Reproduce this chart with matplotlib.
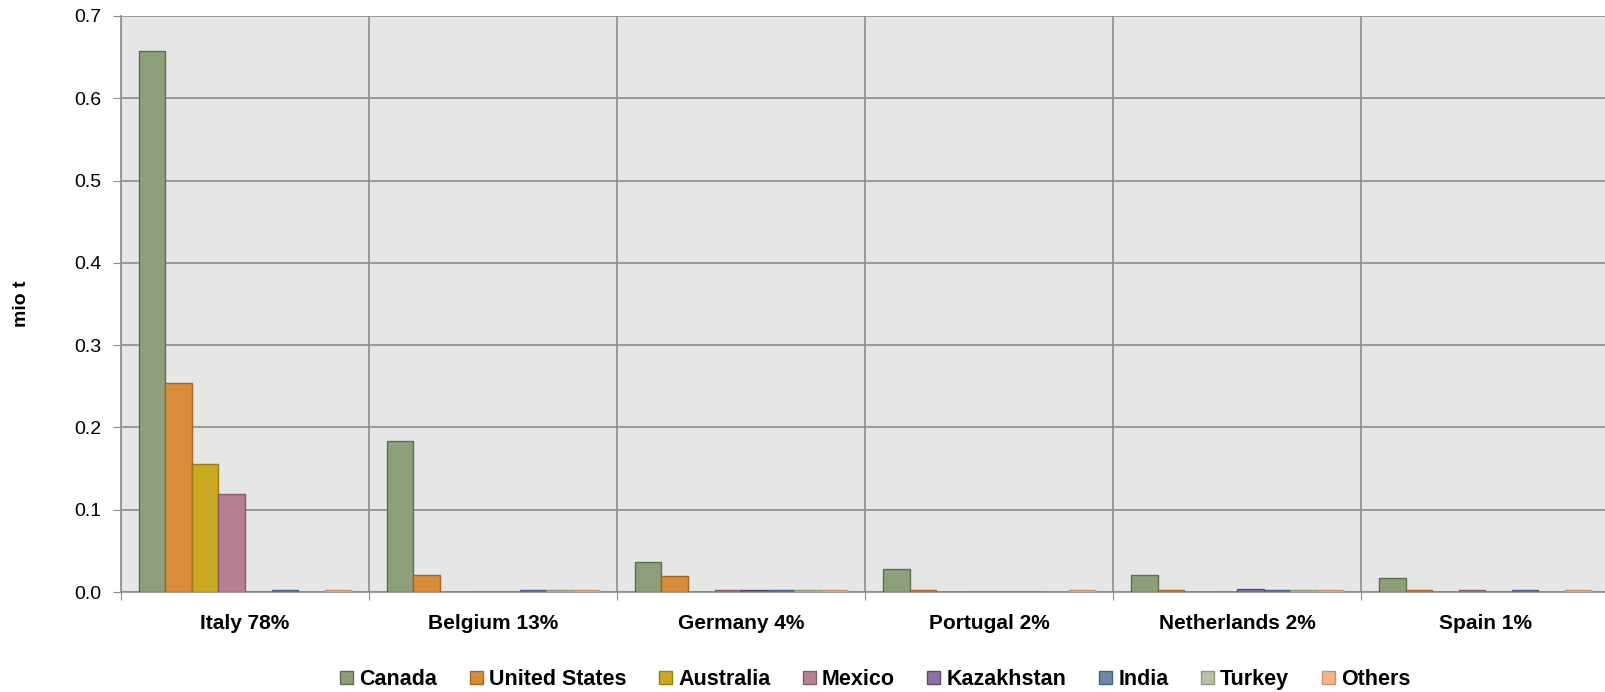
import numpy as np
import matplotlib
matplotlib.use("Agg")
import matplotlib.pyplot as plt
from matplotlib.patches import Patch

plt.rcParams['font.family'] = ['Liberation Sans', 'DejaVu Sans']

# importing countries (x groups) and suppliers (bars)
countries = ["Italy 78%", "Belgium 13%", "Germany 4%", "Portugal 2%",
             "Netherlands 2%", "Spain 1%"]
suppliers = ["Canada", "United States", "Australia", "Mexico",
             "Kazakhstan", "India", "Turkey", "Others"]

canada     = [0.657, 0.184, 0.036, 0.028, 0.021, 0.017]
usa        = [0.254, 0.021, 0.019, 0.002, 0.002, 0.002]
australia  = [0.156, 0.0,   0.0,   0.0,   0.0,   0.0]
mexico     = [0.119, 0.0,   0.002, 0.0,   0.0,   0.002]
kazakhstan = [0.0,   0.0,   0.002, 0.0,   0.004, 0.0]
india      = [0.002, 0.002, 0.002, 0.0,   0.002, 0.002]
turkey     = [0.0,   0.002, 0.002, 0.0,   0.002, 0.0]
others     = [0.002, 0.002, 0.002, 0.002, 0.002, 0.002]

series = [canada, usa, australia, mexico, kazakhstan, india, turkey, others]
fills = ["#8f9f7b", "#d88d3b", "#cba821", "#b77f91",
         "#8b71a7", "#6e87ab", "#b8c3a8", "#f2b68c"]
edges = ["#5f6e4e", "#a8661c", "#9a7e10", "#8a5a6a",
         "#5e4a7a", "#46608a", "#8e9a80", "#d09068"]

fig = plt.figure(figsize=(16.06, 6.92), dpi=100)
ax = fig.add_axes([121 / 1606, 0.1445, 1 - 121 / 1606 + 0.002, 0.977 - 0.1445])
ax.set_facecolor("#e6e6e6")

n = len(suppliers)
bw = 0.107
x = np.arange(len(countries))
for i, (vals, fc, ec) in enumerate(zip(series, fills, edges)):
    pos = x + 0.5 + (i - (n - 1) / 2) * bw
    ax.bar(pos, vals, width=bw, color=fc, edgecolor=ec, linewidth=1.0, zorder=3)

ax.set_xlim(0, len(countries))
ax.set_ylim(0, 0.7)
ax.set_yticks(np.arange(0, 0.71, 0.1))
ax.set_yticklabels([f"{v:.1f}" for v in np.arange(0, 0.71, 0.1)], fontsize=14)

# vertical gridlines at group boundaries, horizontal at y ticks
ax.set_xticks(np.arange(0, len(countries) + 1), minor=False)
ax.set_xticklabels([])
ax.set_xticks(x + 0.5, minor=True)
ax.set_xticklabels(countries, minor=True, fontsize=15, fontweight="bold")
ax.tick_params(axis="x", which="minor", length=0, pad=16)
ax.tick_params(axis="x", which="major", length=6, color="#8c8c8c", direction="out")
ax.tick_params(axis="y", length=6, color="#8c8c8c", direction="out", pad=8)
ax.grid(True, which="major", color="#8c8c8c", linewidth=1.2, zorder=0)
ax.set_axisbelow(True)

for s in ["top", "right"]:
    ax.spines[s].set_visible(False)
for s in ["left", "bottom"]:
    ax.spines[s].set_color("#8c8c8c")
    ax.spines[s].set_linewidth(1.2)

ax.set_ylabel("mio t", fontsize=14, fontweight="bold", labelpad=32)

handles = [Patch(facecolor=fc, edgecolor=ec, label=lab)
           for fc, ec, lab in zip(fills, edges, suppliers)]
fig.legend(handles=handles, loc="center", bbox_to_anchor=(0.545, 0.018), ncol=8,
           frameon=False, prop={"weight": "bold", "size": 15.5},
           handlelength=0.6, handleheight=0.6, handletextpad=0.3, columnspacing=1.5)

fig.savefig("out.png", dpi=100)
